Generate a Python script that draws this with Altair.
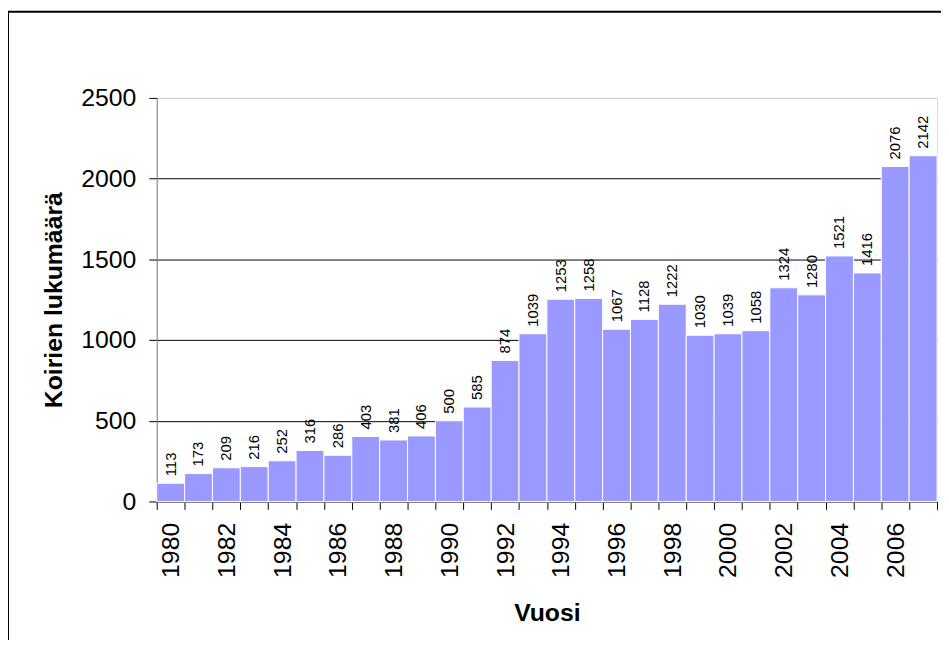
import altair as alt
import pandas as pd

years = list(range(1980, 2008))
counts = [113, 173, 209, 216, 252, 316, 286, 403, 381, 406, 500, 585, 874, 1039,
          1253, 1258, 1067, 1128, 1222, 1030, 1039, 1058, 1324, 1280, 1521, 1416,
          2076, 2142]
y_ticks = [0, 500, 1000, 1500, 2000, 2500]

df = pd.DataFrame({"year": years, "count": counts})
FONT = "Liberation Sans"

x_enc = alt.X(
    "year:O",
    scale=alt.Scale(paddingInner=0, paddingOuter=0),
    axis=alt.Axis(
        title="Vuosi", labelAngle=270, labelFontSize=25, labelFont=FONT,
        labelColor="black", labelPadding=13,
        labelExpr="datum.value % 2 == 0 ? datum.label : ''",
        tickBand="extent", tickSize=8, tickColor="black",
        domainColor="#808080", domainWidth=2, grid=False,
        titleFontSize=25, titleFont=FONT, titleFontWeight="bold",
        titleColor="black", titlePadding=23,
    ),
)

y_enc = alt.Y(
    "count:Q",
    scale=alt.Scale(domain=[0, 2500], nice=False),
    axis=alt.Axis(
        title="Koirien lukumäärä", values=y_ticks, format="d", labelFontSize=25,
        labelFont=FONT, labelColor="black", labelPadding=13,
        tickSize=8, tickColor="black", domainColor="#808080",
        grid=True,
        gridColor={"condition": {"test": "datum.value == 2500", "value": "#c8c8c8"},
                   "value": "black"},
        titleFontSize=25, titleFont=FONT, titleFontWeight="bold",
        titleColor="black", titlePadding=14,
    ),
)

bars = alt.Chart(df).mark_bar(color="#9999FF", stroke="white", strokeWidth=1).encode(
    x=x_enc, y=y_enc
)

labels = alt.Chart(df).mark_text(
    angle=270, align="left", baseline="middle", dx=7, fontSize=15, font=FONT,
    color="black"
).encode(x="year:O", y="count:Q", text="count:Q")

border = alt.Chart(pd.DataFrame({"a": [0]})).mark_rect(
    fill=None, stroke="black", strokeWidth=2
).encode(x=alt.value(-150), x2=alt.value(830), y=alt.value(-87), y2=alt.value(600))

chart = alt.layer(bars, labels, border).properties(
    width=787, height=407,
    autosize=alt.AutoSizeParams(type="none"),
    padding={"left": 150, "top": 88, "right": 4, "bottom": 137},
).configure_view(stroke=None).configure(background="white")

chart.save("out.html", embed_options={"renderer": "svg", "actions": False})
